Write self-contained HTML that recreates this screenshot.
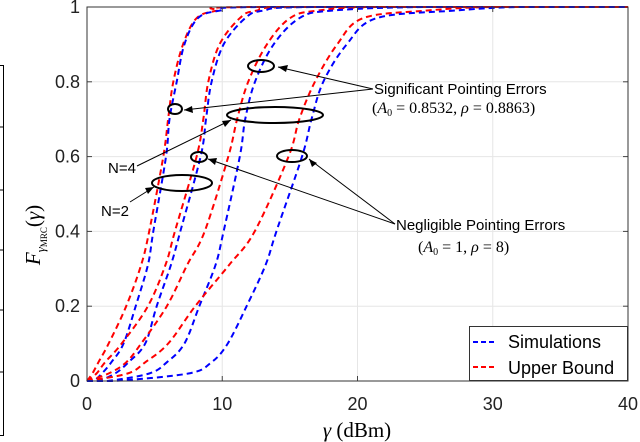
<!DOCTYPE html>
<html><head><meta charset="utf-8"><style>
html,body{margin:0;padding:0;background:#fff;}
svg{display:block;}
text{font-family:"Liberation Sans",sans-serif;}
.serif{font-family:"Liberation Serif",serif;}
</style></head><body>
<svg id="chart" width="640" height="442" viewBox="0 0 640 442" xmlns="http://www.w3.org/2000/svg">
<g id="grid"></g>
<g id="series"></g>
<g id="axes"></g>
<g fill="none" stroke="#000">
  <ellipse cx="261" cy="66" rx="13" ry="6" stroke-width="2"/>
  <ellipse cx="175" cy="109" rx="7" ry="5" stroke-width="2"/>
  <ellipse cx="275" cy="115" rx="48" ry="8" stroke-width="2"/>
  <ellipse cx="199" cy="157" rx="8" ry="5" stroke-width="2"/>
  <ellipse cx="292" cy="156" rx="15" ry="6" stroke-width="2"/>
  <ellipse cx="182" cy="183" rx="30" ry="8" stroke-width="2"/>
  <g stroke-width="1">
    <line x1="373" y1="89" x2="278" y2="67"/>
    <line x1="373" y1="89" x2="184" y2="110"/>
    <line x1="137" y1="166" x2="231" y2="120"/>
    <line x1="130" y1="202" x2="154" y2="187"/>
    <line x1="395" y1="224" x2="208" y2="159"/>
    <line x1="395" y1="224" x2="309" y2="159"/>
  </g>
  <g fill="#000" stroke="none">
    <polygon points="278,67 288,65 286,72" />
    <polygon points="184,110 192,106 193,113" />
    <polygon points="231,120 225,127 222,121" />
    <polygon points="154,187 148,194 145,188" />
    <polygon points="208,159 217,158 215,165" />
    <polygon points="309,159 317,163 312,167" />
  </g>
</g>
<g font-size="15" fill="#000">
  <text x="374" y="94">Significant Pointing Errors</text>
  <text class="serif" x="372" y="113" font-size="16">(<tspan font-style="italic">A</tspan><tspan font-size="10" dy="3">0</tspan><tspan dy="-3"> = 0.8532, </tspan><tspan font-style="italic">ρ</tspan> = 0.8863)</text>
  <text x="108" y="173">N=4</text>
  <text x="101" y="216">N=2</text>
  <text x="396" y="230">Negligible Pointing Errors</text>
  <text class="serif" x="418" y="252" font-size="16">(<tspan font-style="italic">A</tspan><tspan font-size="10" dy="3">0</tspan><tspan dy="-3"> = 1, </tspan><tspan font-style="italic">ρ</tspan> = 8)</text>
</g>
<g>
  <rect x="469.5" y="326.5" width="158" height="54" fill="#fff" stroke="#333" stroke-width="1"/>
  <line x1="473" y1="342" x2="495" y2="342" stroke="#0000ff" stroke-width="2" stroke-dasharray="5,3"/>
  <text x="508" y="348" font-size="18">Simulations</text>
  <line x1="473" y1="367" x2="495" y2="367" stroke="#ff0000" stroke-width="2" stroke-dasharray="5,3"/>
  <text x="508" y="374" font-size="18">Upper Bound</text>
</g>
<g stroke="#000" stroke-width="1">
  <line x1="3.5" y1="65" x2="3.5" y2="436"/>
  <line x1="0" y1="65.5" x2="4" y2="65.5"/><line x1="0" y1="127" x2="4" y2="127"/>
  <line x1="0" y1="190" x2="4" y2="190"/><line x1="0" y1="250" x2="4" y2="250"/>
  <line x1="0" y1="310" x2="4" y2="310"/><line x1="0" y1="372" x2="4" y2="372"/>
  <line x1="0" y1="435.5" x2="4" y2="435.5"/>
</g>
<text class="serif" x="357" y="437" font-size="21" text-anchor="middle"><tspan font-style="italic">γ</tspan> (dBm)</text>
<text class="serif" transform="translate(40,235) rotate(-90)" font-size="21" text-anchor="middle"><tspan font-style="italic">F</tspan><tspan font-size="13" dy="5" font-style="italic">γ</tspan><tspan font-size="9" dy="2">MRC</tspan><tspan dy="-7">(</tspan><tspan font-style="italic">γ</tspan>)</text>
</svg>
<script>
const xTicks = [0, 10, 20, 30, 40];
const yTicks = [0, 0.2, 0.4, 0.6, 0.8, 1];
const yTickLabels = ["0", "0.2", "0.4", "0.6", "0.8", "1"];
const yLevels = [0, 0.02, 0.05, 0.1, 0.2, 0.31, 0.4, 0.6, 0.7, 0.8, 0.9, 0.97, 0.99, 1];
const ub1X  = [0, 0.4, 0.84, 1.6, 2.9, 4.0, 4.6, 5.64, 6.0, 6.38, 7.1, 8.1, 9.6, 12];
const sim1X = [0.5, 1.1, 1.8, 2.7, 3.6, 4.5, 4.9, 5.84, 6.1, 6.63, 7.2, 8.2, 9.8, 13];
const ub2X  = [0, 0.7, 1.33, 2.56, 4.5, 5.8, 6.5, 8.1, 8.6, 8.97, 9.8, 11.3, 12.5, 16];
const sim2X = [0.8, 2.07, 3.06, 4.3, 5.15, 6.2, 6.9, 8.4, 8.8, 9.21, 10.1, 11.7, 13, 17];
const ub3X  = [0, 1.6, 2.9, 4.0, 5.9, 7.4, 8.7, 10.45, 11.1, 11.92, 13.3, 15.0, 17, 22];
const sim3X = [1.5, 4.6, 5.9, 7.2, 8.3, 9.5, 10.1, 11.3, 11.7, 12.42, 13.8, 15.7, 18, 25];
const ub4X  = [0, 3.0, 4.3, 6.0, 8.0, 10.5, 12.4, 14.9, 15.7, 16.85, 18.5, 20.4, 25, 30];
const sim4X = [2.0, 7.5, 9.2, 10.4, 11.8, 13.2, 14.0, 15.9, 16.6, 17.47, 19.2, 21.4, 27, 32];
const xMax = 40;

const L = 87, R = 628, T = 7, B = 381;
const sx = v => L + (v / xMax) * (R - L);
const sy = v => B - v * (B - T);
const NS = "http://www.w3.org/2000/svg";
function mk(tag, parent, attrs) {
  const e = document.createElementNS(NS, tag);
  for (const k in attrs) e.setAttribute(k, attrs[k]);
  parent.appendChild(e);
  return e;
}
const grid = document.getElementById('grid');
const axes = document.getElementById('axes');
const series = document.getElementById('series');
xTicks.forEach(t => {
  const g = mk('line', grid, {x1: sx(t), x2: sx(t), y1: T, y2: B, stroke: '#e6e6e6', 'stroke-width': 1});
  
  
  mk('line', axes, {x1: sx(t), x2: sx(t), y1: B, y2: B - 5, stroke: '#444'});
  mk('line', axes, {x1: sx(t), x2: sx(t), y1: T, y2: T + 5, stroke: '#444'});
  const lbl = mk('text', axes, {x: sx(t), y: 410, 'font-size': 18, 'text-anchor': 'middle', fill: '#222'});
  lbl.textContent = String(t);
  
  
});
yTicks.forEach((t, i) => {
  const g = mk('line', grid, {x1: L, x2: R, y1: sy(t), y2: sy(t), stroke: '#e6e6e6', 'stroke-width': 1});
  
  
  mk('line', axes, {x1: L, x2: L + 5, y1: sy(t), y2: sy(t), stroke: '#444'});
  mk('line', axes, {x1: R, x2: R - 5, y1: sy(t), y2: sy(t), stroke: '#444'});
  const lbl = mk('text', axes, {x: 80, y: sy(t) + 6, 'font-size': 18, 'text-anchor': 'end', fill: '#222'});
  lbl.textContent = yTickLabels[i];
  
  
});
const box = mk('rect', axes, {x: L, y: T, width: R - L, height: B - T, fill: 'none', stroke: '#333', 'stroke-width': 1});



const curves = [
  [ub1X, '#ff0000', 'upper-bound-1'], [sim1X, '#0000ff', 'simulation-1'],
  [ub2X, '#ff0000', 'upper-bound-2'], [sim2X, '#0000ff', 'simulation-2'],
  [ub3X, '#ff0000', 'upper-bound-3'], [sim3X, '#0000ff', 'simulation-3'],
  [ub4X, '#ff0000', 'upper-bound-4'], [sim4X, '#0000ff', 'simulation-4']
];
curves.forEach(([xs, col, name]) => {
  const pts = [];
  if (xs[0] > 0) pts.push([sx(0), sy(0)]);
  xs.forEach((x, i) => pts.push([sx(x), sy(yLevels[i])]));
  pts.push([sx(xMax), sy(1)]);
  let d = 'M' + pts[0][0].toFixed(1) + ',' + pts[0][1].toFixed(1);
  for (let i = 0; i < pts.length - 1; i++) {
    const p0 = pts[Math.max(0, i - 1)], p1 = pts[i], p2 = pts[i + 1], p3 = pts[Math.min(pts.length - 1, i + 2)];
    let c1x = p1[0] + (p2[0] - p0[0]) / 6, c1y = p1[1] + (p2[1] - p0[1]) / 6;
    let c2x = p2[0] - (p3[0] - p1[0]) / 6, c2y = p2[1] - (p3[1] - p1[1]) / 6;
    c1y = Math.max(T, Math.min(B, c1y)); c2y = Math.max(T, Math.min(B, c2y));
    d += ' C' + c1x.toFixed(1) + ',' + c1y.toFixed(1) + ' ' + c2x.toFixed(1) + ',' + c2y.toFixed(1) + ' ' + p2[0].toFixed(1) + ',' + p2[1].toFixed(1);
  }
  const p = mk('path', series, {d: d, fill: 'none', stroke: col, 'stroke-width': 2, 'stroke-dasharray': '6,4'});
  
  
});
</script>
</body></html>
